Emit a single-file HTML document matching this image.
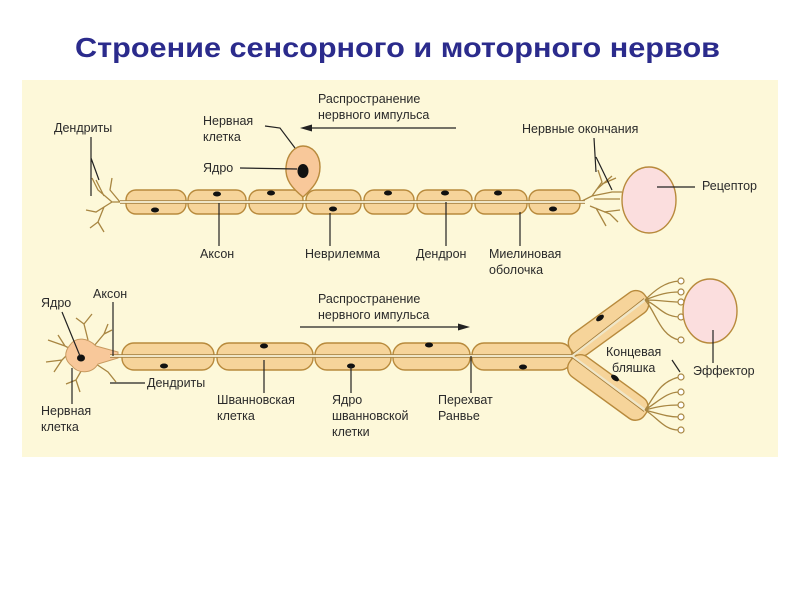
<!DOCTYPE html>
<html><head><meta charset="utf-8"><style>
html,body{margin:0;padding:0;background:#fff;width:800px;height:600px;overflow:hidden}
svg{display:block}
text{font-family:"Liberation Sans","DejaVu Sans",sans-serif;font-size:12.5px;fill:#2a2a2a}
.t{font-size:28px;font-weight:bold;fill:#2b2b8c}
.seg{fill:#f6d49a;stroke:#b88a3c;stroke-width:1.4}
.ax{stroke:#efe6c8;stroke-width:2.5;fill:none}
.ax2{stroke:#a07a38;stroke-width:0.8;fill:none}
.ln{stroke:#222;stroke-width:1.2;fill:none}
.br{stroke:#a88642;stroke-width:1.3;fill:none}
.nu{fill:#111}
.tc{fill:#fff;stroke:#a88642;stroke-width:1.2}
</style></head><body>
<svg width="800" height="600" viewBox="0 0 800 600" xmlns="http://www.w3.org/2000/svg">
<text class="t" x="75" y="57" textLength="645" lengthAdjust="spacingAndGlyphs">Строение сенсорного и моторного нервов</text>
<rect x="22" y="80" width="756" height="377" fill="#fdf8d9"/>

<!-- TOP ROW -->
<g class="br">
<path d="M126 202 L112 202 L98 190 L92 178 M104 196 L96 180 M112 202 L96 212 L86 210 M104 207 L98 222 L90 228 M98 222 L104 232 M120 202 L110 190 L112 178"/>
<path d="M580 202 L592 196 L602 182 L598 170 M596 190 L612 176 M602 184 L616 178 M592 196 L612 192 L622 192 M594 199 L620 199 M590 206 L610 214 L618 222 M596 208 L606 226 M604 212 L620 210"/>
</g>
<g>
<rect class="seg" x="126" y="190" width="60" height="24" rx="10"/>
<rect class="seg" x="188" y="190" width="58" height="24" rx="10"/>
<rect class="seg" x="249" y="190" width="54" height="24" rx="10"/>
<rect class="seg" x="306" y="190" width="55" height="24" rx="10"/>
<rect class="seg" x="364" y="190" width="50" height="24" rx="10"/>
<rect class="seg" x="417" y="190" width="55" height="24" rx="10"/>
<rect class="seg" x="475" y="190" width="52" height="24" rx="10"/>
<rect class="seg" x="529" y="190" width="51" height="24" rx="10"/>
</g>
<line class="ax" x1="120" y1="202" x2="585" y2="202"/>
<line class="ax2" x1="120" y1="200.5" x2="585" y2="200.5"/><line class="ax2" x1="120" y1="203.5" x2="585" y2="203.5"/>
<g class="nu">
<ellipse cx="155" cy="210" rx="4" ry="2.5"/><ellipse cx="217" cy="194" rx="4" ry="2.5"/><ellipse cx="271" cy="193" rx="4" ry="2.5"/>
<ellipse cx="333" cy="209" rx="4" ry="2.5"/><ellipse cx="388" cy="193" rx="4" ry="2.5"/><ellipse cx="445" cy="193" rx="4" ry="2.5"/>
<ellipse cx="498" cy="193" rx="4" ry="2.5"/><ellipse cx="553" cy="209" rx="4" ry="2.5"/>
</g>
<path d="M303 197 C292 188 285 180 286 167 C287 154 295 146 303 146 C312 146 320 154 320 167 C320 180 313 188 303 197 Z" fill="#f8c89a" stroke="#b88a3c" stroke-width="1.4"/>
<ellipse class="nu" cx="303" cy="171" rx="5.5" ry="7"/>
<ellipse cx="649" cy="200" rx="27" ry="33" fill="#fbdede" stroke="#b88a3c" stroke-width="1.4"/>

<!-- top labels -->
<text x="54" y="132">Дендриты</text>
<path class="ln" d="M91 137 L91 196 M91 158 L99 180"/>
<text x="203" y="125">Нервная</text><text x="203" y="141">клетка</text>
<path class="ln" d="M265 126 L280 128 L295 148"/>
<text x="203" y="172">Ядро</text>
<line class="ln" x1="240" y1="168" x2="297" y2="169"/>
<text x="318" y="103">Распространение</text><text x="318" y="119">нервного импульса</text>
<line class="ln" x1="306" y1="128" x2="456" y2="128"/>
<path d="M300 128 L312 124.5 L312 131.5 Z" fill="#222"/>
<text x="522" y="133">Нервные окончания</text>
<path class="ln" d="M594 138 L596 172 M596 157 L612 190"/>
<text x="702" y="190">Рецептор</text>
<line class="ln" x1="657" y1="187" x2="695" y2="187"/>
<text x="200" y="258">Аксон</text><line class="ln" x1="219" y1="203" x2="219" y2="246"/>
<text x="305" y="258">Неврилемма</text><line class="ln" x1="330" y1="213" x2="330" y2="246"/>
<text x="416" y="258">Дендрон</text><line class="ln" x1="446" y1="202" x2="446" y2="246"/>
<text x="489" y="258">Миелиновая</text><text x="489" y="274">оболочка</text><line class="ln" x1="520" y1="212" x2="520" y2="246"/>

<!-- BOTTOM ROW -->
<g class="br">
<path d="M82 355 L65 346 L48 340 M65 346 L58 335 M72 350 L62 360 L46 362 M62 360 L54 372 M84 366 L76 380 L66 384 M76 380 L80 392 M88 340 L84 324 L76 318 M84 324 L92 314 M94 346 L104 334 L108 324 M104 334 L112 330 M96 364 L108 372 L116 382"/>
</g>
<path d="M70 345 C76 336 88 338 96 346 L118 352 L118 358 L98 364 C92 374 78 374 72 366 C64 360 64 352 70 345 Z" fill="#f8c89a" stroke="#c89a60" stroke-width="1"/>
<ellipse class="nu" cx="81" cy="358" rx="4" ry="3.5"/>
<g>
<rect class="seg" x="122" y="343" width="92" height="27" rx="12"/>
<rect class="seg" x="217" y="343" width="96" height="27" rx="12"/>
<rect class="seg" x="315" y="343" width="76" height="27" rx="12"/>
<rect class="seg" x="393" y="343" width="77" height="27" rx="12"/>
<rect class="seg" x="472" y="343" width="100" height="27" rx="12"/>
<rect class="seg" x="0" y="-12" width="92" height="25" rx="11" transform="translate(571 350) rotate(-36)"/>
<rect class="seg" x="0" y="-12" width="92" height="25" rx="11" transform="translate(571 360) rotate(36)"/>
</g>
<path class="ax" d="M110 356 L572 356 M572 356 L645 300 M572 356 L645 410"/>
<path class="ax2" d="M110 354.5 L572 354.5 L644 298.5 M110 357.5 L572 357.5 L644 411.5"/>
<g class="nu">
<ellipse cx="164" cy="366" rx="4" ry="2.5"/><ellipse cx="264" cy="346" rx="4" ry="2.5"/><ellipse cx="351" cy="366" rx="4" ry="2.5"/>
<ellipse cx="429" cy="345" rx="4" ry="2.5"/><ellipse cx="523" cy="367" rx="4" ry="2.5"/>
<ellipse cx="600" cy="318" rx="4.5" ry="2.5" transform="rotate(-36 600 318)"/><ellipse cx="615" cy="378" rx="4.5" ry="2.5" transform="rotate(36 615 378)"/>
</g>
<g class="br">
<path d="M645 300 C655 290 665 282 679 281 M645 300 C660 294 668 292 679 292 M645 300 C660 300 668 302 679 302 M645 300 C658 305 662 316 679 317 M645 300 C656 312 660 336 679 340"/>
<path d="M645 410 C656 394 660 382 679 377 M645 410 C660 400 668 392 679 392 M645 410 C660 406 668 405 679 405 M645 410 C660 414 668 417 679 417 M645 410 C658 418 664 430 679 430"/>
</g>
<g class="tc">
<circle cx="681" cy="281" r="3"/><circle cx="681" cy="292" r="3"/><circle cx="681" cy="302" r="3"/><circle cx="681" cy="317" r="3"/><circle cx="681" cy="340" r="3"/>
<circle cx="681" cy="377" r="3"/><circle cx="681" cy="392" r="3"/><circle cx="681" cy="405" r="3"/><circle cx="681" cy="417" r="3"/><circle cx="681" cy="430" r="3"/>
</g>
<ellipse cx="710" cy="311" rx="27" ry="32" fill="#fbdede" stroke="#b88a3c" stroke-width="1.4"/>

<!-- bottom labels -->
<text x="41" y="307">Ядро</text><line class="ln" x1="62" y1="312" x2="80" y2="356"/>
<text x="93" y="298">Аксон</text><line class="ln" x1="113" y1="302" x2="113" y2="356"/>
<text x="147" y="387">Дендриты</text><line class="ln" x1="110" y1="383" x2="145" y2="383"/>
<text x="41" y="415">Нервная</text><text x="41" y="431">клетка</text><line class="ln" x1="72" y1="368" x2="72" y2="404"/>
<text x="318" y="303">Распространение</text><text x="318" y="319">нервного импульса</text>
<line class="ln" x1="300" y1="327" x2="462" y2="327"/><path d="M470 327 L458 323.5 L458 330.5 Z" fill="#222"/>
<text x="217" y="404">Шванновская</text><text x="217" y="420">клетка</text><line class="ln" x1="264" y1="360" x2="264" y2="393"/>
<text x="332" y="404">Ядро</text><text x="332" y="420">шванновской</text><text x="332" y="436">клетки</text><line class="ln" x1="351" y1="366" x2="351" y2="393"/>
<text x="438" y="404">Перехват</text><text x="438" y="420">Ранвье</text><line class="ln" x1="471" y1="356" x2="471" y2="393"/>
<text x="606" y="356">Концевая</text><text x="612" y="372">бляшка</text><line class="ln" x1="672" y1="360" x2="680" y2="372"/>
<text x="693" y="375">Эффектор</text><line class="ln" x1="713" y1="330" x2="713" y2="363"/>
</svg>
</body></html>
